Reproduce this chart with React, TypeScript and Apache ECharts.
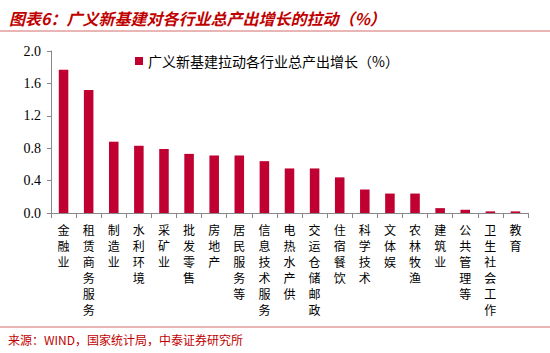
import React, { useEffect, useRef } from "react";
import * as echarts from "echarts";

const categories = [
  "金融业", "租赁商务服务", "制造业", "水利环境", "采矿业", "批发零售", "房地产", "居民服务等",
  "信息技术服务", "电热水产供", "交运仓储邮政", "住宿餐饮", "科学技术", "文体娱", "农林牧渔",
  "建筑业", "公共管理等", "卫生社会工作", "教育",
];
const values = [1.77, 1.52, 0.88, 0.83, 0.79, 0.73, 0.71, 0.71, 0.64, 0.55, 0.55, 0.44, 0.29, 0.24, 0.24, 0.06, 0.04, 0.02, 0.02];
const seriesName = "广义新基建拉动各行业总产出增长（%）";
const titleText = "图表6：广义新基建对各行业总产出增长的拉动（%）";
const sourceText = "来源：WIND，国家统计局，中泰证券研究所";

export default function App() {
  const ref = useRef<HTMLDivElement>(null);
  useEffect(() => {
    if (!ref.current) return;
    const chart = echarts.init(ref.current, undefined, { renderer: "svg" });
    chart.setOption({
      animation: false,
      backgroundColor: "#ffffff",
      title: {
        text: titleText,
        left: 4,
        top: 5,
        textStyle: {
          color: "#C00000",
          fontSize: 16,
          fontStyle: "italic",
          fontWeight: "bold",
          fontFamily: "Noto Sans CJK SC",
        },
      },
      legend: {
        data: [seriesName],
        left: 130,
        top: 49,
        itemWidth: 8,
        itemHeight: 8,
        itemGap: 4,
        icon: "rect",
        textStyle: { fontSize: 14, color: "#000", fontFamily: "Noto Sans CJK SC" },
      },
      grid: { left: 51, right: 22, top: 51, bottom: 140 },
      xAxis: {
        type: "category",
        data: categories,
        axisLine: { lineStyle: { color: "#888" } },
        axisTick: { show: true, alignWithLabel: false, length: 5, lineStyle: { color: "#888" } },
        axisLabel: {
          interval: 0,
          color: "#000",
          fontSize: 12,
          lineHeight: 16,
          margin: 8,
          fontFamily: "Noto Sans CJK SC",
          formatter: (v: string) => v.split("").join("\n"),
        },
      },
      yAxis: {
        type: "value",
        min: 0,
        max: 2.0,
        interval: 0.4,
        splitLine: { show: false },
        axisLine: { show: true, lineStyle: { color: "#888" } },
        axisTick: { show: true, length: 4, lineStyle: { color: "#888" } },
        axisLabel: {
          color: "#000",
          fontSize: 14,
          fontFamily: "Liberation Serif",
          margin: 10,
          formatter: (v: number) => v.toFixed(1),
        },
      },
      series: [
        {
          name: seriesName,
          type: "bar",
          data: values,
          barWidth: "38%",
          itemStyle: { color: "#BF0030" },
        },
      ],
      graphic: [
        {
          type: "line",
          shape: { x1: 0, y1: 31, x2: 550, y2: 31 },
          style: { stroke: "#D46A6A", lineWidth: 1 },
        },
        {
          type: "line",
          shape: { x1: 0, y1: 327, x2: 550, y2: 327 },
          style: { stroke: "#D46A6A", lineWidth: 1 },
        },
        {
          type: "text",
          left: 8,
          top: 333,
          style: {
            text: sourceText,
            fill: "#C00000",
            fontSize: 12,
            fontFamily: "Noto Sans CJK SC",
          },
        },
      ],
    });
    return () => chart.dispose();
  }, []);
  return <div ref={ref} style={{ width: 550, height: 353, position: "absolute", left: 0, top: 0 }} />;
}
